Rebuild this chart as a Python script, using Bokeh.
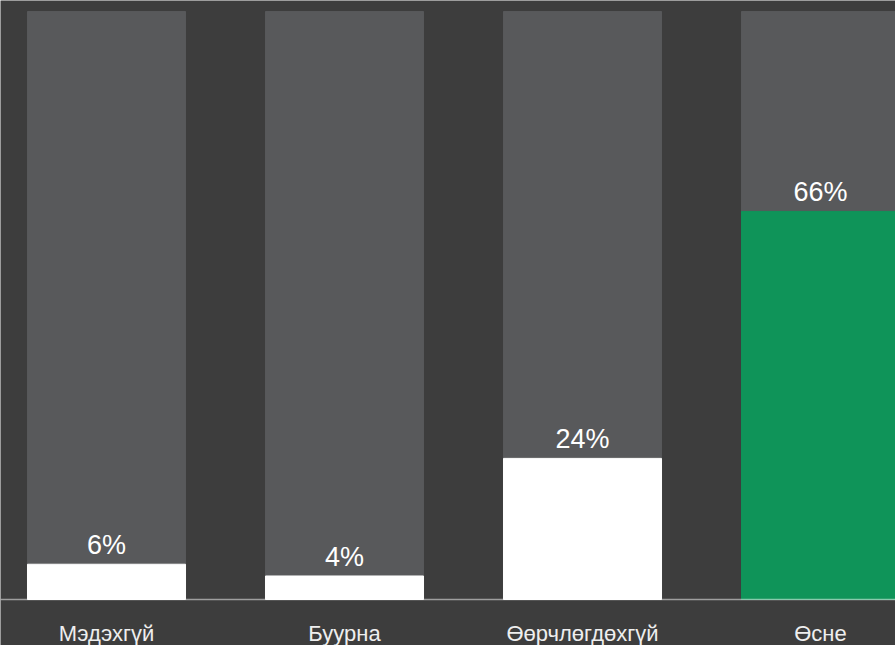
from bokeh.plotting import figure
from bokeh.models import Range1d, ColumnDataSource, Span
from bokeh.core.properties import value
from bokeh.embed import file_html
from bokeh.resources import INLINE

categories = ["Мэдэхгүй", "Буурна", "Өөрчлөгдөхгүй", "Өсне"]
values = [6, 4, 24, 66]
full = [100, 100, 100, 100]
bar_colors = ["#ffffff", "#ffffff", "#ffffff", "#0f9459"]
labels = [f"{v}%" for v in values]

xs = list(range(len(categories)))
src = ColumnDataSource(dict(x=xs, v=values, full=full, c=bar_colors, lab=labels,
                            cat=categories, zero=[0] * len(xs)))

BG = "#3d3d3d"
p = figure(width=895, height=645, output_backend="svg", toolbar_location=None,
           x_range=Range1d(-0.44538, 3.3151), y_range=Range1d(-7.823, 101.87),
           min_border=0,
           background_fill_color=BG, border_fill_color=BG, outline_line_color=None,
           styles={"position": "absolute", "left": "0px", "top": "0px"})
p.axis.visible = False
p.grid.visible = False

p.vbar(x="x", top="full", bottom=0, width=0.664, color="#58595b", source=src)
p.vbar(x="x", top="v", bottom=0, width=0.664, color="c", source=src)
p.text(x="x", y="v", text="lab", source=src, text_align="center", text_baseline="alphabetic",
       y_offset=-19, text_color="#ffffff", text_font=value("Liberation Sans"), text_font_size="27px")
p.text(x="x", y="zero", text="cat", source=src, text_align="center", text_baseline="alphabetic",
       y_offset=34, text_color="#eeeeee", text_font=value("Liberation Sans"), text_font_size="22px")

p.add_layout(Span(location=0, dimension="width", line_color="#ffffff", line_alpha=0.5, line_width=1.5))

open("out.html", "w").write(file_html(p, INLINE))
